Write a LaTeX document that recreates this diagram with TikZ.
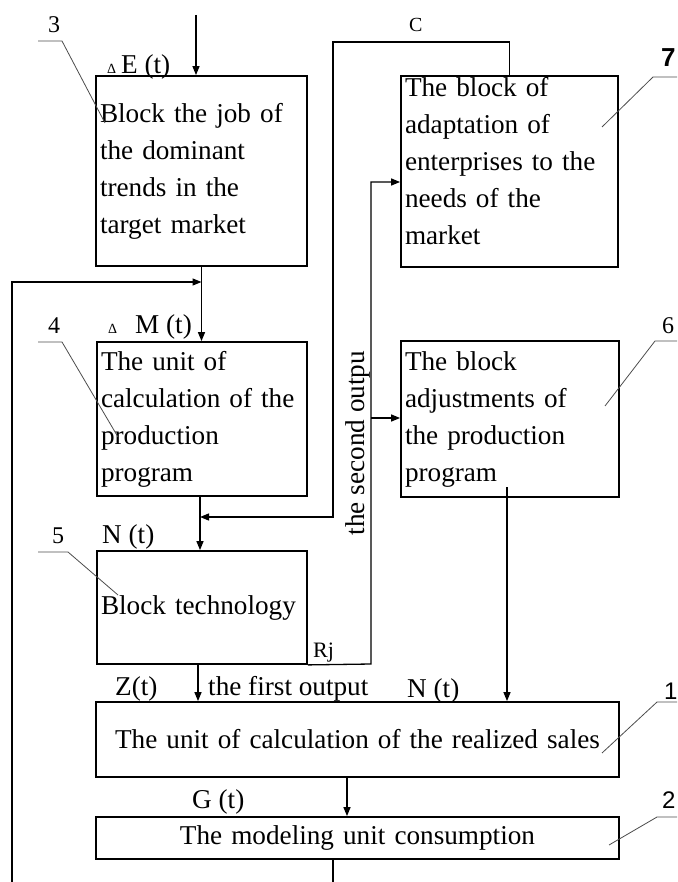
\documentclass[tikz,border=0pt]{standalone}
\usepackage{fontspec}
\setmainfont{Liberation Serif}
\newfontfamily\numsans{Liberation Sans}
\usetikzlibrary{arrows.meta}
\newcommand{\dlt}{{\fontsize{14pt}{14pt}\selectfont Δ}}

\begin{document}
\begin{tikzpicture}[x=1pt, y=-1pt,
    >={Triangle[length=9pt,width=7pt]},
    blk/.style={draw, line width=1.8pt, inner xsep=4pt, inner ysep=0pt,
        align=left, font=\fontsize{27.2pt}{37pt}\selectfont},
    lbl/.style={inner sep=0pt, anchor=base west, font=\fontsize{27.2pt}{34pt}\selectfont},
    num/.style={inner sep=0pt, anchor=base west, font=\fontsize{24pt}{24pt}\selectfont},
    arr/.style={->, line width=1.3pt},
    leader/.style={line width=0.8pt, black!70}
]
    \useasboundingbox (0,0) rectangle (677,882);

    % --- blocks ---
    \node[blk, minimum width=211pt, minimum height=190pt, text width=203pt] (b3) at (201.5,171)
        {Block the job of\\the dominant\\trends in the\\target market};
    \node[blk, minimum width=210pt, minimum height=154pt, text width=202pt] (b4) at (202,419)
        {The unit of\\calculation of the\\production\\program};
    \node[blk, minimum width=210pt, minimum height=113pt, text width=202pt] (b5) at (202,607.5)
        {Block technology};
    \node[blk, minimum width=217pt, minimum height=191pt, text width=209pt] (b7) at (509.5,171.5)
        {The block of\\adaptation of\\enterprises to the\\needs of the\\market\rule[-22pt]{0pt}{1pt}};
    \node[blk, minimum width=218pt, minimum height=156pt, text width=210pt] (b6) at (510,419)
        {The block\\adjustments of\\the production\\program};
    \node[blk, minimum width=523pt, minimum height=75pt, text width=515pt, align=center] (b1) at (357.5,739.5)
        {The unit of calculation of the realized sales};
    \node[blk, minimum width=523pt, minimum height=42pt, text width=515pt, align=center] (b2) at (357.5,838)
        {The modeling unit consumption};

    % --- labels ---
    \node[num] (n3) at (48,33) {3};
    \node[num] (n4) at (48,333) {4};
    \node[num] (n5) at (52,543) {5};
    \node[num] (n6) at (662,333) {6};
    \node[num, font=\fontsize{26pt}{26pt}\numsans\bfseries] (n7) at (661,67) {7};
    \node[num, font=\fontsize{24pt}{24pt}\numsans] (n1) at (664,699) {1};
    \node[num, font=\fontsize{24pt}{24pt}\numsans] (n2) at (662,808) {2};
    \node[lbl] (dE) at (107,74) {\dlt\hspace{5pt}E (t)};
    \node[lbl] (dM) at (108,333) {\dlt\hspace{18pt}M (t)};
    \node[lbl] (Nt) at (102,543) {N (t)};
    \node[lbl] (Zt) at (115,695) {Z(t)};
    \node[lbl] (fo) at (208,695) {the first output};
    \node[lbl] (Nt1) at (407,697) {N (t)};
    \node[lbl] (Gt) at (192,808) {G (t)};
    \node[num, font=\fontsize{22pt}{22pt}\selectfont] (Rj) at (313,657) {Rj};
    \node[num, font=\fontsize{20pt}{20pt}\selectfont] (C) at (409,32) {C};
    \node[lbl, anchor=base, rotate=90] (so) at (364,443) {the second outpu};

    % --- leader lines ---
    \foreach \xa/\xb/\yb/\xc/\yc in {38/62/41/105/123, 38/62/342/118/437, 38/68/552/118/595,
        677/653/77/602/127, 677/655/341/605/406, 677/657/702/602/753, 677/657/817/609/845} {
        \draw[leader] (\xa,\yb) -- (\xb,\yb) -- (\xc,\yc);
    }

    % --- connectors ---
    \coordinate (inE) at (196,15);
    \draw[arr] (inE) -- (inE |- b3.north);
    \draw[arr] (b3.south) -- (b3.south |- b4.north);
    % feedback from the bottom
    \coordinate (fbEnd) at (12,882);
    \coordinate (fb) at (12,282);
    \draw[arr] (fbEnd) -- (fb) -- (fb -| b3.south);
    \coordinate (ax4) at ([xshift=-2pt]b4.south);
    \draw[arr] (ax4) -- (ax4 |- b5.north);
    % C loop
    \coordinate (cTop) at (333,42);
    \coordinate (cIn) at (333,517);
    \draw[arr] (b7.north) |- (cTop) -- (cIn) -- (cIn -| ax4);
    % Rj, the second output
    \coordinate (rj) at (371,664);
    \coordinate (r7) at (371,182);
    \coordinate (r6) at (371,418);
    \draw[arr] (b5.south east) -- (rj) -- (r7) -- (r7 -| b7.west);
    \draw[arr] (r6) -- (r6 -| b6.west);
    % to block 1
    \coordinate (o6) at (507,487);
    \draw[arr] (o6) -- (o6 |- b1.north);
    \coordinate (ax5) at ([xshift=-4pt]b5.south);
    \draw[arr] (ax5) -- (ax5 |- b1.north);
    \coordinate (ax1) at ([xshift=-10.5pt]b1.south);
    \draw[arr] (ax1) -- (ax1 |- b2.north);
    \coordinate (out2) at (333,882);
    \draw[line width=1.3pt] (out2 |- b2.south) -- (out2);
\end{tikzpicture}
\end{document}
